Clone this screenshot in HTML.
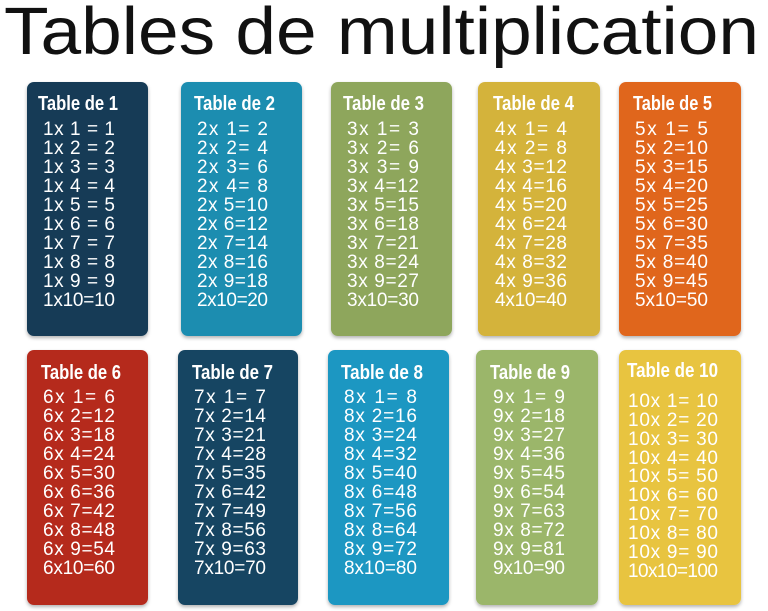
<!DOCTYPE html>
<html><head><meta charset="utf-8"><style>
html,body{margin:0;padding:0;background:#fff;}
svg{display:block;}
.t{font-family:"Liberation Sans",sans-serif;font-weight:bold;font-size:20px;fill:#fff;}
.l{font-family:"Liberation Sans",sans-serif;font-size:19px;fill:#fff;white-space:pre;}
</style></head><body>
<svg width="768" height="611" viewBox="0 0 768 611" xmlns="http://www.w3.org/2000/svg">
<defs><filter id="sh" x="-10%" y="-10%" width="120%" height="120%"><feDropShadow dx="0" dy="2" stdDeviation="1.8" flood-color="#000" flood-opacity="0.3"/></filter></defs>
<text x="4" y="54" font-family="Liberation Sans, sans-serif" font-size="67" fill="#111" textLength="755" lengthAdjust="spacingAndGlyphs">Tables de multiplication</text>

<g filter="url(#sh)">
<rect x="27" y="82" width="121" height="254" rx="7" fill="#143b57"/>
<rect x="181" y="82" width="121" height="254" rx="7" fill="#1c8db0"/>
<rect x="331" y="82" width="121" height="254" rx="7" fill="#8ea65c"/>
<rect x="478" y="82" width="122" height="254" rx="7" fill="#d4b33b"/>
<rect x="619" y="82" width="122" height="254" rx="7" fill="#e0661f"/>
<rect x="27" y="350" width="121" height="255" rx="7" fill="#b52a1f"/>
<rect x="178" y="350" width="120" height="255" rx="7" fill="#154462"/>
<rect x="328" y="350" width="121" height="255" rx="7" fill="#1b97c2"/>
<rect x="476" y="350" width="122" height="255" rx="7" fill="#9bb66a"/>
<rect x="619" y="350" width="122" height="255" rx="7" fill="#e8c441"/>
</g>

<text class="t" x="38" y="110" textLength="80" lengthAdjust="spacingAndGlyphs">Table de 1</text>
<text class="t" x="194" y="110" textLength="81" lengthAdjust="spacingAndGlyphs">Table de 2</text>
<text class="t" x="343" y="110" textLength="81" lengthAdjust="spacingAndGlyphs">Table de 3</text>
<text class="t" x="493" y="110" textLength="81" lengthAdjust="spacingAndGlyphs">Table de 4</text>
<text class="t" x="633" y="110" textLength="79" lengthAdjust="spacingAndGlyphs">Table de 5</text>
<text class="t" x="41" y="379" textLength="80" lengthAdjust="spacingAndGlyphs">Table de 6</text>
<text class="t" x="192" y="379" textLength="81" lengthAdjust="spacingAndGlyphs">Table de 7</text>
<text class="t" x="341" y="379" textLength="82" lengthAdjust="spacingAndGlyphs">Table de 8</text>
<text class="t" x="490" y="379" textLength="80" lengthAdjust="spacingAndGlyphs">Table de 9</text>
<text class="t" x="627" y="377" textLength="91" lengthAdjust="spacingAndGlyphs">Table de 10</text>

<g>
<text class="l" x="43" y="135" textLength="72">1x 1 = 1</text>
<text class="l" x="43" y="154" textLength="72">1x 2 = 2</text>
<text class="l" x="43" y="173" textLength="72">1x 3 = 3</text>
<text class="l" x="43" y="192" textLength="72">1x 4 = 4</text>
<text class="l" x="43" y="211" textLength="72">1x 5 = 5</text>
<text class="l" x="43" y="230" textLength="72">1x 6 = 6</text>
<text class="l" x="43" y="249" textLength="72">1x 7 = 7</text>
<text class="l" x="43" y="268" textLength="72">1x 8 = 8</text>
<text class="l" x="43" y="287" textLength="72">1x 9 = 9</text>
<text class="l" x="43" y="306" textLength="72">1x10=10</text>
</g>
<g>
<text class="l" x="197" y="135" textLength="71">2x 1= 2</text>
<text class="l" x="197" y="154" textLength="71">2x 2= 4</text>
<text class="l" x="197" y="173" textLength="71">2x 3= 6</text>
<text class="l" x="197" y="192" textLength="71">2x 4= 8</text>
<text class="l" x="197" y="211" textLength="71">2x 5=10</text>
<text class="l" x="197" y="230" textLength="71">2x 6=12</text>
<text class="l" x="197" y="249" textLength="71">2x 7=14</text>
<text class="l" x="197" y="268" textLength="71">2x 8=16</text>
<text class="l" x="197" y="287" textLength="71">2x 9=18</text>
<text class="l" x="197" y="306" textLength="71">2x10=20</text>
</g>
<g>
<text class="l" x="347" y="135" textLength="72">3x 1= 3</text>
<text class="l" x="347" y="154" textLength="72">3x 2= 6</text>
<text class="l" x="347" y="173" textLength="72">3x 3= 9</text>
<text class="l" x="347" y="192" textLength="72">3x 4=12</text>
<text class="l" x="347" y="211" textLength="72">3x 5=15</text>
<text class="l" x="347" y="230" textLength="72">3x 6=18</text>
<text class="l" x="347" y="249" textLength="72">3x 7=21</text>
<text class="l" x="347" y="268" textLength="72">3x 8=24</text>
<text class="l" x="347" y="287" textLength="72">3x 9=27</text>
<text class="l" x="347" y="306" textLength="72">3x10=30</text>
</g>
<g>
<text class="l" x="495" y="135" textLength="72">4x 1= 4</text>
<text class="l" x="495" y="154" textLength="72">4x 2= 8</text>
<text class="l" x="495" y="173" textLength="72">4x 3=12</text>
<text class="l" x="495" y="192" textLength="72">4x 4=16</text>
<text class="l" x="495" y="211" textLength="72">4x 5=20</text>
<text class="l" x="495" y="230" textLength="72">4x 6=24</text>
<text class="l" x="495" y="249" textLength="72">4x 7=28</text>
<text class="l" x="495" y="268" textLength="72">4x 8=32</text>
<text class="l" x="495" y="287" textLength="72">4x 9=36</text>
<text class="l" x="495" y="306" textLength="72">4x10=40</text>
</g>
<g>
<text class="l" x="635" y="135" textLength="73">5x 1= 5</text>
<text class="l" x="635" y="154" textLength="73">5x 2=10</text>
<text class="l" x="635" y="173" textLength="73">5x 3=15</text>
<text class="l" x="635" y="192" textLength="73">5x 4=20</text>
<text class="l" x="635" y="211" textLength="73">5x 5=25</text>
<text class="l" x="635" y="230" textLength="73">5x 6=30</text>
<text class="l" x="635" y="249" textLength="73">5x 7=35</text>
<text class="l" x="635" y="268" textLength="73">5x 8=40</text>
<text class="l" x="635" y="287" textLength="73">5x 9=45</text>
<text class="l" x="635" y="306" textLength="73">5x10=50</text>
</g>
<g>
<text class="l" x="43" y="403" textLength="72">6x 1= 6</text>
<text class="l" x="43" y="422" textLength="72">6x 2=12</text>
<text class="l" x="43" y="441" textLength="72">6x 3=18</text>
<text class="l" x="43" y="460" textLength="72">6x 4=24</text>
<text class="l" x="43" y="479" textLength="72">6x 5=30</text>
<text class="l" x="43" y="498" textLength="72">6x 6=36</text>
<text class="l" x="43" y="517" textLength="72">6x 7=42</text>
<text class="l" x="43" y="536" textLength="72">6x 8=48</text>
<text class="l" x="43" y="555" textLength="72">6x 9=54</text>
<text class="l" x="43" y="574" textLength="72">6x10=60</text>
</g>
<g>
<text class="l" x="194" y="403" textLength="72">7x 1= 7</text>
<text class="l" x="194" y="422" textLength="72">7x 2=14</text>
<text class="l" x="194" y="441" textLength="72">7x 3=21</text>
<text class="l" x="194" y="460" textLength="72">7x 4=28</text>
<text class="l" x="194" y="479" textLength="72">7x 5=35</text>
<text class="l" x="194" y="498" textLength="72">7x 6=42</text>
<text class="l" x="194" y="517" textLength="72">7x 7=49</text>
<text class="l" x="194" y="536" textLength="72">7x 8=56</text>
<text class="l" x="194" y="555" textLength="72">7x 9=63</text>
<text class="l" x="194" y="574" textLength="72">7x10=70</text>
</g>
<g>
<text class="l" x="344" y="403" textLength="73">8x 1= 8</text>
<text class="l" x="344" y="422" textLength="73">8x 2=16</text>
<text class="l" x="344" y="441" textLength="73">8x 3=24</text>
<text class="l" x="344" y="460" textLength="73">8x 4=32</text>
<text class="l" x="344" y="479" textLength="73">8x 5=40</text>
<text class="l" x="344" y="498" textLength="73">8x 6=48</text>
<text class="l" x="344" y="517" textLength="73">8x 7=56</text>
<text class="l" x="344" y="536" textLength="73">8x 8=64</text>
<text class="l" x="344" y="555" textLength="73">8x 9=72</text>
<text class="l" x="344" y="574" textLength="73">8x10=80</text>
</g>
<g>
<text class="l" x="493" y="403" textLength="72">9x 1= 9</text>
<text class="l" x="493" y="422" textLength="72">9x 2=18</text>
<text class="l" x="493" y="441" textLength="72">9x 3=27</text>
<text class="l" x="493" y="460" textLength="72">9x 4=36</text>
<text class="l" x="493" y="479" textLength="72">9x 5=45</text>
<text class="l" x="493" y="498" textLength="72">9x 6=54</text>
<text class="l" x="493" y="517" textLength="72">9x 7=63</text>
<text class="l" x="493" y="536" textLength="72">9x 8=72</text>
<text class="l" x="493" y="555" textLength="72">9x 9=81</text>
<text class="l" x="493" y="574" textLength="72">9x10=90</text>
</g>
<g>
<text class="l" x="628" y="407" textLength="90" fill="#fffbe6">10x 1= 10</text>
<text class="l" x="628" y="426" textLength="90" fill="#fffbe6">10x 2= 20</text>
<text class="l" x="628" y="445" textLength="90" fill="#fffbe6">10x 3= 30</text>
<text class="l" x="628" y="464" textLength="90" fill="#fffbe6">10x 4= 40</text>
<text class="l" x="628" y="482" textLength="90" fill="#fffbe6">10x 5= 50</text>
<text class="l" x="628" y="501" textLength="90" fill="#fffbe6">10x 6= 60</text>
<text class="l" x="628" y="520" textLength="90" fill="#fffbe6">10x 7= 70</text>
<text class="l" x="628" y="539" textLength="90" fill="#fffbe6">10x 8= 80</text>
<text class="l" x="628" y="558" textLength="90" fill="#fffbe6">10x 9= 90</text>
<text class="l" x="628" y="577" textLength="90" fill="#fffbe6">10x10=100</text>
</g>
</svg>
</body></html>
